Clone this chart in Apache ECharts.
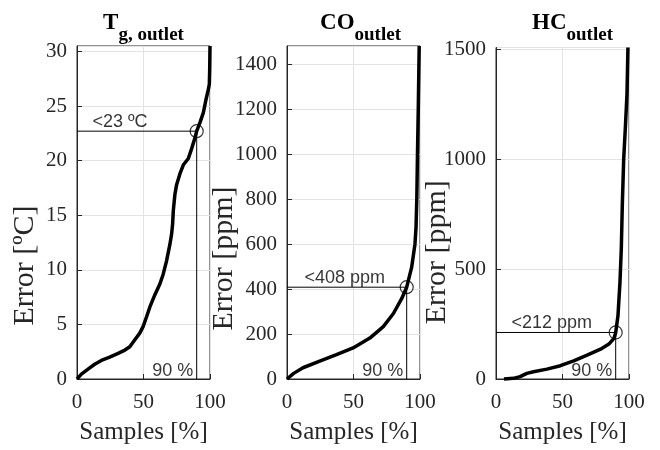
<!DOCTYPE html>
<html>
<head>
<meta charset="utf-8">
<script src="https://cdn.jsdelivr.net/npm/echarts@6/dist/echarts.min.js"></script>
<style>html,body{margin:0;padding:0;background:#fff}#c{width:660px;height:450px}</style>
</head>
<body>
<div id="c"></div>
<script>
// ---- data ----
const tgX = [0, 3.3, 8.3, 13.3, 18.3, 24.6, 30.9, 36, 39.7, 43.5, 47.2, 49.7, 52.3, 54.8, 58.5, 62.3, 64.8, 67.3, 69.8, 71.1, 71.9, 72.4, 73.6, 74.9, 77.4, 79.9, 83.7, 86.2, 88.7, 90, 92.5, 95, 97, 98.7, 99.5, 99.8, 100];
const tgY = [0, 0.45, 0.9, 1.35, 1.7, 2.0, 2.35, 2.65, 2.95, 3.6, 4.2, 4.8, 5.7, 6.6, 7.7, 8.7, 9.6, 10.8, 12.3, 13.25, 14.2, 15.4, 16.9, 17.8, 18.8, 19.6, 20.2, 21.1, 22.1, 22.7, 23.5, 24.4, 25.6, 26.5, 27.0, 28.5, 30.5];
const coX = [0, 5, 12, 24.6, 37.2, 49.7, 62.3, 72.4, 80, 86.2, 90, 93.7, 96.2, 97.0, 97.6, 98.1, 98.7, 99.4];
const coY = [0, 25, 50, 79, 108, 138, 182, 233, 291, 357, 408, 496, 599, 672, 800, 1000, 1200, 1480];
const hcX = [6, 13.1, 18.1, 23.2, 28.2, 38.3, 48.4, 58.4, 68.5, 78.6, 84.9, 88.7, 90, 91.7, 93.2, 94.2, 95, 96, 97.3, 98.5, 99.2];
const hcY = [0, 3, 10.6, 25.8, 33, 45, 60.6, 83, 109, 136, 159, 185, 212, 288, 439, 591, 800, 1000, 1150, 1300, 1510];
const titleMain = ['T', 'CO', 'HC'];
const titleSub = ['g, outlet', 'outlet', 'outlet'];
const yNames = ['Error [ºC]', 'Error [ppm]', 'Error [ppm]'];
const xName = 'Samples [%]';
const yMax = [30.5, 1480, 1510];
const yStep = [5, 200, 500];
const thresholds = [22.7, 408, 212];
const thresholdLabels = ['<23 ºC', '<408 ppm', '<212 ppm'];
const pct = 90;
const pctLabel = '90 %';

// ---- layout ----
const serif = '"Liberation Serif", "Times New Roman", serif';
const sans = '"Liberation Sans", Arial, sans-serif';
const gridPos = [
  {left: 77, top: 46, width: 133, height: 337},
  {left: 287, top: 46, width: 133, height: 337},
  {left: 496, top: 47.5, width: 133, height: 333.5}
];
const titleCenter = [138.5, 355.5, 567.5];
const yNameGap = [37, 48, 44];
const yNameShift = [53, 46, 39];
const labelOffset = [16, 18, 16];
const ink = '#262626';

const curves = [[tgX, tgY], [coX, coY], [hcX, hcY]];
const grids = [], xAxes = [], yAxes = [], series = [], titles = [];
for (let i = 0; i < 3; i++) {
  grids.push(Object.assign({show: true, borderColor: ink, borderWidth: 1, backgroundColor: '#fff'}, gridPos[i]));
  xAxes.push({
    type: 'value', gridIndex: i, min: 0, max: 100, interval: 50,
    axisLine: {lineStyle: {color: ink, width: 1}},
    axisTick: {inside: true, length: 5, lineStyle: {color: ink}},
    axisLabel: {fontFamily: serif, fontSize: 21, color: ink, margin: 13},
    splitLine: {show: true, lineStyle: {color: '#e3e3e3', width: 1}},
    name: xName, nameLocation: 'middle', nameGap: 41, nameMoveOverlap: false,
    nameTextStyle: {fontFamily: serif, fontSize: 25, color: ink}
  });
  yAxes.push({
    type: 'value', gridIndex: i, min: 0, max: yMax[i], interval: yStep[i],
    axisLine: {show: true, lineStyle: {color: ink, width: 1}},
    axisTick: {show: true, inside: true, length: 5, lineStyle: {color: ink}},
    axisLabel: {fontFamily: serif, fontSize: 21, color: ink, margin: 10, showMaxLabel: false,
      formatter: v => String(v)},
    splitLine: {show: true, lineStyle: {color: '#e3e3e3', width: 1}},
    name: yNames[i], nameLocation: 'middle', nameGap: yNameGap[i], nameMoveOverlap: false,
    nameTextStyle: {fontFamily: serif, fontSize: 30, color: ink, padding: [0, 2 * yNameShift[i], 0, 0]}
  });
  const [xs, ys] = curves[i];
  series.push({
    type: 'line', xAxisIndex: i, yAxisIndex: i, symbol: 'none', z: 5,
    data: xs.map((x, k) => [x, ys[k]]),
    lineStyle: {color: '#000', width: 3.5}, clip: false, animation: false
  });
  const t = thresholds[i];
  series.push({
    type: 'line', xAxisIndex: i, yAxisIndex: i, symbol: 'none', z: 3,
    data: [[0, t], [pct, t], [pct, 0]],
    lineStyle: {color: '#000', width: 1}, animation: false
  });
  series.push({
    type: 'scatter', xAxisIndex: i, yAxisIndex: i, z: 6,
    data: [[pct, t]], symbol: 'circle', symbolSize: 13,
    itemStyle: {color: 'rgba(0,0,0,0)', borderColor: '#000', borderWidth: 1.2}, animation: false
  });
  series.push({
    type: 'scatter', xAxisIndex: i, yAxisIndex: i, z: 7,
    data: [[0, t]], symbolSize: 1, itemStyle: {color: 'rgba(0,0,0,0)'}, animation: false,
    label: {show: true, formatter: thresholdLabels[i], position: [labelOffset[i], 0],
      align: 'left', verticalAlign: 'bottom', fontFamily: sans, fontSize: 18, color: '#000'}
  });
  series.push({
    type: 'scatter', xAxisIndex: i, yAxisIndex: i, z: 7,
    data: [[pct, 0]], symbolSize: 1, itemStyle: {color: 'rgba(0,0,0,0)'}, animation: false,
    label: {show: true, formatter: pctLabel, position: [-3, 2],
      align: 'right', verticalAlign: 'bottom', fontFamily: sans, fontSize: 18, color: '#000'}
  });
  titles.push({
    text: '{m|' + titleMain[i] + '}{s|' + titleSub[i] + '}',
    left: titleCenter[i], top: 7, textAlign: 'center',
    textStyle: {rich: {
      m: {fontFamily: serif, fontWeight: 'bold', fontSize: 23, color: '#000', lineHeight: 24, verticalAlign: 'top'},
      s: {fontFamily: serif, fontWeight: 'bold', fontSize: 19, color: '#000', lineHeight: 20, verticalAlign: 'top', padding: [14, 0, 0, 0]}
    }}
  });
}

const chart = echarts.init(document.getElementById('c'), null, {renderer: 'canvas'});
chart.setOption({
  animation: false,
  backgroundColor: '#fff',
  title: titles,
  grid: grids,
  xAxis: xAxes,
  yAxis: yAxes,
  series: series
});
</script>
</body>
</html>
